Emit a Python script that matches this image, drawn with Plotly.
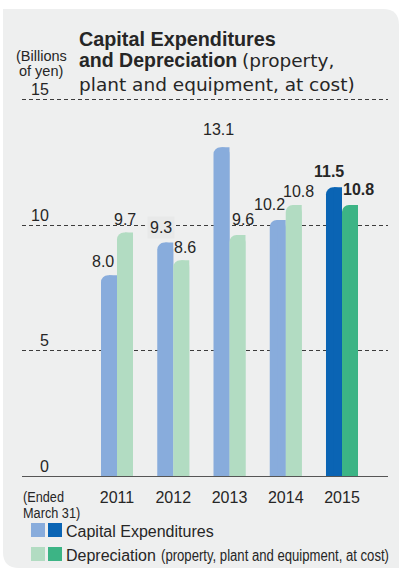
import plotly.graph_objects as go

# ---- data (billions of yen, fiscal years ended March 31) ----
years = ["2011", "2012", "2013", "2014", "2015"]
capex = [8.0, 9.3, 13.1, 10.2, 11.5]
depreciation = [9.7, 8.6, 9.6, 10.8, 10.8]
y_ticks = [0, 5, 10, 15]
y_tick_text = ["0", "5", "10", "15"]

# ---- label nudges (px) so neighbouring value labels don't collide ----
capex_label_dx = [-6.5, -4, -3.5, -8, -4.5]
capex_label_dy = [14, 15, 18, 15.5, 15.5]
dep_label_dx = [-0.5, 4, 6, 4.5, 9]
dep_label_dy = [13, 12.5, 15.5, 13.5, 15.5]
capex_label_halo = [False, True, False, False, False]

# ---- styling ----
W, H = 399, 568
ML, MR, MT, MB = 22, 11, 97, 92
PW, PH = W - ML - MR, H - MT - MB

PANEL = "#eeefef"
TEXT = "#262626"
CAPEX_LIGHT, CAPEX_DARK = "#88acdc", "#0a64b4"
DEP_LIGHT, DEP_DARK = "#b2dcc2", "#3cb485"
SANS = "Liberation Sans, Arial, sans-serif"
WIDE = "DejaVu Sans, Verdana, sans-serif"

BAR_W = 0.2844          # width of one bar in category units
CORNER = 7              # rounded top-left corner radius, px

n = len(years)
pos = list(range(n))
latest = n - 1
capex_colors = [CAPEX_DARK if i == latest else CAPEX_LIGHT for i in range(n)]
dep_colors = [DEP_DARK if i == latest else DEP_LIGHT for i in range(n)]


def px_x(px):
    return (px - ML) / PW


def px_y(py):
    return (H - MB - py) / PH


fig = go.Figure()

# Each series: a bar with rounded top corners, plus a square half-bar over its
# right half so only the top-left corner stays rounded.
for vals, colors, off in ((capex, capex_colors, -BAR_W), (depreciation, dep_colors, 0.0)):
    fig.add_trace(go.Bar(
        x=pos, y=vals, width=BAR_W, offset=off,
        marker=dict(color=colors, line=dict(width=0), cornerradius=CORNER),
        hoverinfo="skip",
    ))
    fig.add_trace(go.Bar(
        x=pos, y=vals, width=BAR_W / 2, offset=off + BAR_W / 2,
        marker=dict(color=colors, line=dict(width=0), cornerradius=0),
        hoverinfo="skip",
    ))

annotations = []

# value labels
for i in range(n):
    bold = i == latest
    annotations.append(dict(
        x=pos[i] - BAR_W / 2, y=capex[i], xref="x", yref="y",
        text=(f"<b>{capex[i]:.1f}</b>" if bold else f"{capex[i]:.1f}"),
        showarrow=False, xanchor="center", yanchor="middle",
        xshift=capex_label_dx[i], yshift=capex_label_dy[i],
        font=dict(family=SANS, size=16, color=TEXT),
        bgcolor="#e8e9e9" if capex_label_halo[i] else None,
        borderpad=2,
    ))
    annotations.append(dict(
        x=pos[i] + BAR_W / 2, y=depreciation[i], xref="x", yref="y",
        text=(f"<b>{depreciation[i]:.1f}</b>" if bold else f"{depreciation[i]:.1f}"),
        showarrow=False, xanchor="center", yanchor="middle",
        xshift=dep_label_dx[i], yshift=dep_label_dy[i],
        font=dict(family=SANS, size=16, color=TEXT),
    ))

# y-axis numbers sit just above their gridlines
for v, t in zip(y_ticks, y_tick_text):
    annotations.append(dict(
        x=px_x(51), y=v, xref="paper", yref="y", text=t, showarrow=False,
        xanchor="right", yanchor="middle", yshift=10,
        font=dict(family=SANS, size=16, color=TEXT),
    ))


def label(text, x, y, size, family=SANS, anchor="left"):
    annotations.append(dict(
        x=px_x(x), y=px_y(y), xref="paper", yref="paper", text=text,
        showarrow=False, xanchor=anchor, yanchor="middle",
        font=dict(family=family, size=size, color=TEXT),
    ))


# unit note
label("(Billions", 41, 56, 14.5, anchor="center")
label("of yen)", 41, 71, 14.5, anchor="center")

# title
label("<b>Capital Expenditures</b>", 77, 38.5, 19.8)
label("<b>and Depreciation</b>", 77, 60, 19.5)
label("(property,", 240, 60, 18.5, family=WIDE)
label("plant and equipment, at cost)", 77, 84, 18.5, family=WIDE)

# x-axis note (set condensed below)
label("(Ended", 21, 496.5, 15.5)
label("March 31)", 21, 512.5, 15.5)

# legend
label("Capital Expenditures", 64, 531, 16)
label("Depreciation", 64, 555, 16)
label("(property, plant and equipment, at cost)", 159, 555, 16)

shapes = []
# background panel with rounded top-right and bottom-left corners
r = 16
path = (
    f"M {px_x(3)},{px_y(9)} L {px_x(399 - r)},{px_y(9)} "
    f"Q {px_x(399)},{px_y(9)} {px_x(399)},{px_y(9 + r)} "
    f"L {px_x(399)},{px_y(568)} L {px_x(3 + r)},{px_y(568)} "
    f"Q {px_x(3)},{px_y(568)} {px_x(3)},{px_y(568 - r)} Z"
)
shapes.append(dict(type="path", path=path, xref="paper", yref="paper",
                   fillcolor=PANEL, line=dict(width=0), layer="below"))

# legend swatches
for row, (light, dark) in enumerate(((CAPEX_LIGHT, CAPEX_DARK), (DEP_LIGHT, DEP_DARK))):
    top = 523 + row * 24
    for left, col in ((31, light), (48, dark)):
        shapes.append(dict(type="rect", xref="paper", yref="paper",
                           x0=px_x(left), x1=px_x(left + 14),
                           y0=px_y(top + 14), y1=px_y(top),
                           fillcolor=col, line=dict(width=0), layer="above"))

fig.update_layout(
    width=W, height=H,
    margin=dict(l=ML, r=MR, t=MT, b=MB),
    paper_bgcolor="white", plot_bgcolor="rgba(0,0,0,0)",
    barmode="overlay", showlegend=False,
    annotations=annotations, shapes=shapes,
    xaxis=dict(
        range=[-1.689, 4.818], tickvals=pos, ticktext=years,
        showgrid=False, zeroline=False, showline=False, ticks="",
        tickfont=dict(family=SANS, size=16, color=TEXT),
        ticklabelstandoff=10, fixedrange=True,
    ),
    yaxis=dict(
        range=[0, 15.1], tickvals=y_ticks, showticklabels=False,
        showgrid=True, gridcolor="#3c3c3c", gridwidth=1, griddash="4px,3px",
        zeroline=True, zerolinecolor="#555555", zerolinewidth=1.3,
        showline=False, ticks="", fixedrange=True,
    ),
)

# No narrow face is installed, so the small notes are condensed horizontally.
condense = """
var gd = document.getElementById('{plot_id}');
function condense() {
  gd.querySelectorAll('text.annotation-text').forEach(function (t) {
    var s = t.textContent;
    if (s.indexOf('(property, plant') === 0 || s.indexOf('(Ended') === 0 ||
        s.indexOf('March 31)') === 0) {
      t.style.transformBox = 'fill-box';
      t.style.transformOrigin = '0% 50%';
      t.style.transform = 'scaleX(0.82)';
    }
  });
}
condense();
gd.on('plotly_afterplot', condense);
"""

fig.write_html("out.html", config={"displayModeBar": False}, post_script=condense)
